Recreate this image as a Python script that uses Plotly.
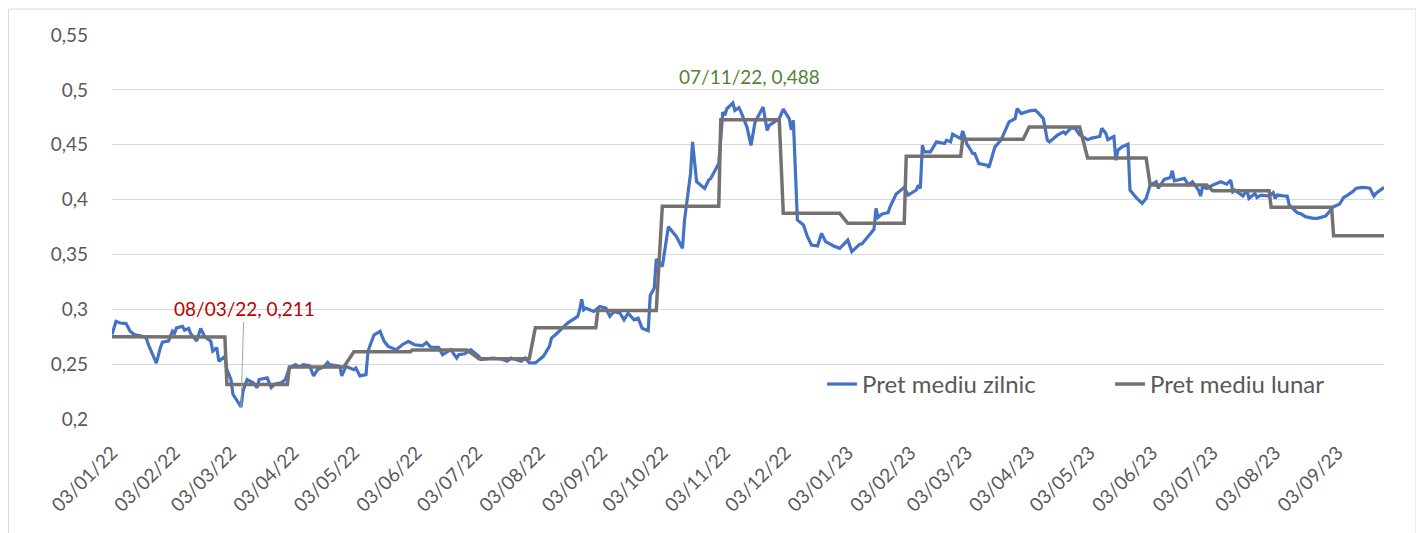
import plotly.graph_objects as go

# daily average price (Pret mediu zilnic)
zilnic_dates = [
    "2022-01-03", "2022-01-05", "2022-01-07", "2022-01-10", "2022-01-12", "2022-01-14", "2022-01-18",
    "2022-01-20", "2022-01-21", "2022-01-25", "2022-01-27", "2022-01-28", "2022-01-31", "2022-02-02",
    "2022-02-03", "2022-02-04", "2022-02-07", "2022-02-08", "2022-02-10", "2022-02-11", "2022-02-14",
    "2022-02-16", "2022-02-18", "2022-02-21", "2022-02-22", "2022-02-24", "2022-02-25", "2022-02-28",
    "2022-03-01", "2022-03-03", "2022-03-04", "2022-03-08", "2022-03-09", "2022-03-11", "2022-03-14",
    "2022-03-16", "2022-03-17", "2022-03-21", "2022-03-22", "2022-03-23", "2022-03-25", "2022-03-28",
    "2022-03-30", "2022-04-01", "2022-04-04", "2022-04-06", "2022-04-08", "2022-04-11", "2022-04-13",
    "2022-04-15", "2022-04-18", "2022-04-20", "2022-04-21", "2022-04-26", "2022-04-27", "2022-04-29",
    "2022-05-03", "2022-05-04", "2022-05-06", "2022-05-09", "2022-05-10", "2022-05-13", "2022-05-16",
    "2022-05-18", "2022-05-20", "2022-05-24", "2022-05-27", "2022-05-30", "2022-06-02", "2022-06-06",
    "2022-06-08", "2022-06-10", "2022-06-14", "2022-06-16", "2022-06-20", "2022-06-23", "2022-06-24",
    "2022-06-27", "2022-06-30", "2022-07-04", "2022-07-05", "2022-07-11", "2022-07-15", "2022-07-18",
    "2022-07-20", "2022-07-25", "2022-07-27", "2022-07-29", "2022-08-01", "2022-08-05", "2022-08-08",
    "2022-08-09", "2022-08-11", "2022-08-15", "2022-08-17", "2022-08-22", "2022-08-23", "2022-08-24",
    "2022-08-25", "2022-08-26", "2022-08-30", "2022-09-02", "2022-09-05", "2022-09-07", "2022-09-09",
    "2022-09-12", "2022-09-14", "2022-09-16", "2022-09-19", "2022-09-21", "2022-09-23", "2022-09-26",
    "2022-09-27", "2022-09-29", "2022-09-30", "2022-10-03", "2022-10-06", "2022-10-10", "2022-10-13",
    "2022-10-14", "2022-10-17", "2022-10-18", "2022-10-20", "2022-10-24", "2022-10-26", "2022-10-27",
    "2022-10-31", "2022-11-02", "2022-11-03", "2022-11-04", "2022-11-07", "2022-11-08", "2022-11-10",
    "2022-11-11", "2022-11-14", "2022-11-16", "2022-11-18", "2022-11-22", "2022-11-24", "2022-11-25",
    "2022-11-30", "2022-12-02", "2022-12-05", "2022-12-06", "2022-12-07", "2022-12-09", "2022-12-12",
    "2022-12-14", "2022-12-16", "2022-12-19", "2022-12-21", "2022-12-23", "2022-12-27", "2022-12-30",
    "2023-01-03", "2023-01-05", "2023-01-09", "2023-01-10", "2023-01-13", "2023-01-16", "2023-01-17",
    "2023-01-18", "2023-01-20", "2023-01-23", "2023-01-24", "2023-01-27", "2023-01-31", "2023-02-02",
    "2023-02-06", "2023-02-07", "2023-02-08", "2023-02-09", "2023-02-10", "2023-02-13", "2023-02-16",
    "2023-02-20", "2023-02-21", "2023-02-23", "2023-02-24", "2023-02-28", "2023-03-01", "2023-03-03",
    "2023-03-06", "2023-03-07", "2023-03-09", "2023-03-13", "2023-03-14", "2023-03-16", "2023-03-17",
    "2023-03-20", "2023-03-22", "2023-03-24", "2023-03-27", "2023-03-28", "2023-03-30", "2023-04-03",
    "2023-04-06", "2023-04-07", "2023-04-10", "2023-04-12", "2023-04-13", "2023-04-17", "2023-04-20",
    "2023-04-21", "2023-04-24", "2023-04-26", "2023-04-28", "2023-05-02", "2023-05-04", "2023-05-08",
    "2023-05-09", "2023-05-11", "2023-05-12", "2023-05-15", "2023-05-16", "2023-05-17", "2023-05-19",
    "2023-05-22", "2023-05-23", "2023-05-26", "2023-05-29", "2023-05-31", "2023-06-02", "2023-06-05",
    "2023-06-06", "2023-06-09", "2023-06-12", "2023-06-13", "2023-06-14", "2023-06-19", "2023-06-21",
    "2023-06-23", "2023-06-26", "2023-06-27", "2023-06-28", "2023-06-30", "2023-07-03", "2023-07-05",
    "2023-07-07", "2023-07-10", "2023-07-12", "2023-07-13", "2023-07-14", "2023-07-18", "2023-07-20",
    "2023-07-21", "2023-07-24", "2023-07-25", "2023-07-27", "2023-07-31", "2023-08-02", "2023-08-03",
    "2023-08-04", "2023-08-08", "2023-08-09", "2023-08-10", "2023-08-14", "2023-08-16", "2023-08-18",
    "2023-08-22", "2023-08-24", "2023-08-28", "2023-08-30", "2023-09-01", "2023-09-04", "2023-09-06",
    "2023-09-08", "2023-09-11", "2023-09-12", "2023-09-15", "2023-09-18", "2023-09-19", "2023-09-21",
    "2023-09-22", "2023-09-26",
]
zilnic_vals = [
    0.277, 0.289, 0.2875, 0.287, 0.280, 0.277, 0.2755,
    0.274, 0.268, 0.251, 0.265, 0.270, 0.271, 0.280,
    0.278, 0.283, 0.2845, 0.281, 0.2826, 0.278, 0.271,
    0.2826, 0.275, 0.271, 0.262, 0.265, 0.2526, 0.257,
    0.245, 0.236, 0.2225, 0.211, 0.2255, 0.236, 0.233,
    0.2286, 0.236, 0.2375, 0.233, 0.2286, 0.232, 0.233,
    0.236, 0.2465, 0.2495, 0.2474, 0.2495, 0.2486, 0.2393,
    0.245, 0.2474, 0.2516, 0.2495, 0.248, 0.2393, 0.248,
    0.245, 0.2465, 0.2393, 0.2405, 0.262, 0.2768, 0.2799,
    0.2708, 0.2662, 0.2632, 0.2677, 0.2708, 0.2677, 0.2668,
    0.2698, 0.2656, 0.2653, 0.2586, 0.2632, 0.2556, 0.2586,
    0.2595, 0.2632, 0.2571, 0.2541, 0.2556, 0.2547, 0.2526,
    0.2556, 0.2526, 0.2556, 0.2511, 0.2511, 0.2571, 0.2662,
    0.2738, 0.2768, 0.2844, 0.2874, 0.2935, 0.2995, 0.3092,
    0.2995, 0.301, 0.298, 0.3026, 0.301, 0.2935, 0.298,
    0.2965, 0.2904, 0.2965, 0.2904, 0.2919, 0.2828, 0.2805,
    0.3125, 0.3192, 0.3458, 0.339, 0.3753, 0.3662, 0.3556,
    0.381, 0.4238, 0.4526, 0.4163, 0.4102, 0.4178, 0.4193,
    0.4329, 0.4798, 0.4768, 0.4828, 0.488, 0.4813, 0.4838,
    0.480, 0.4661, 0.4494, 0.4707, 0.4843, 0.463, 0.4676,
    0.4737, 0.4825, 0.4735, 0.4635, 0.4722, 0.3814, 0.3768,
    0.3662, 0.3586, 0.3577, 0.3692, 0.3617, 0.3577, 0.3556,
    0.3631, 0.3526, 0.3595, 0.3595, 0.3662, 0.3729, 0.392,
    0.3838, 0.3868, 0.388, 0.3935, 0.405, 0.4111, 0.4041,
    0.4087, 0.4132, 0.4102, 0.4495, 0.4435, 0.4435, 0.4526,
    0.4511, 0.4541, 0.4526, 0.4596, 0.4556, 0.4626, 0.4511,
    0.442, 0.442, 0.4329, 0.4314, 0.4293, 0.442, 0.4481,
    0.4541, 0.4632, 0.4708, 0.4738, 0.4829, 0.4784, 0.4808,
    0.4814, 0.4799, 0.4738, 0.4541, 0.4526, 0.4587, 0.4617,
    0.460, 0.4657, 0.4645, 0.459, 0.4545, 0.456, 0.4575,
    0.465, 0.4605, 0.4545, 0.4575, 0.4358, 0.445, 0.448,
    0.4505, 0.4086, 0.4019, 0.3965, 0.401, 0.4132, 0.4162,
    0.4102, 0.4184, 0.4202, 0.4263, 0.4171, 0.4193, 0.4132,
    0.4162, 0.4086, 0.4032, 0.4117, 0.4102, 0.4132, 0.4147,
    0.4162, 0.414, 0.4177, 0.4071, 0.4086, 0.4032, 0.4086,
    0.401, 0.4056, 0.4019, 0.4041, 0.4032, 0.4062, 0.401,
    0.4041, 0.4032, 0.4032, 0.395, 0.388, 0.3868, 0.3844,
    0.3829, 0.3829, 0.385, 0.389, 0.3935, 0.3959, 0.4019,
    0.4041, 0.408, 0.4102, 0.4111, 0.4108, 0.4102, 0.4032,
    0.4056, 0.4111,
]

# monthly average price (Pret mediu lunar): first and last trading day of each month
luna_start = [
    "2022-01-03", "2022-02-01", "2022-03-01", "2022-04-01", "2022-05-03", "2022-06-01", "2022-07-04",
    "2022-08-01", "2022-09-01", "2022-10-03", "2022-11-01", "2022-12-02", "2023-01-03", "2023-02-01",
    "2023-03-01", "2023-04-03", "2023-05-02", "2023-06-02", "2023-07-03", "2023-08-01", "2023-09-01",
]
luna_end = [
    "2022-01-31", "2022-02-28", "2022-03-31", "2022-04-28", "2022-05-31", "2022-06-28", "2022-07-29",
    "2022-08-31", "2022-09-30", "2022-10-31", "2022-11-30", "2022-12-30", "2023-01-31", "2023-02-28",
    "2023-03-31", "2023-04-28", "2023-05-31", "2023-06-30", "2023-07-31", "2023-08-31", "2023-09-26",
]
luna_vals = [
    0.2750, 0.2747, 0.2314, 0.2475, 0.2612, 0.2630, 0.2550,
    0.2832, 0.2988, 0.3940, 0.4727, 0.3875, 0.3784, 0.4395,
    0.4550, 0.4662, 0.4380, 0.4132, 0.4080, 0.3930, 0.3671,
]

tick_dates = [
    "2022-01-03", "2022-02-03", "2022-03-03", "2022-04-03", "2022-05-03", "2022-06-03", "2022-07-03",
    "2022-08-03", "2022-09-03", "2022-10-03", "2022-11-03", "2022-12-03", "2023-01-03", "2023-02-03",
    "2023-03-03", "2023-04-03", "2023-05-03", "2023-06-03", "2023-07-03", "2023-08-03", "2023-09-03",
]

luna_x, luna_y = [], []
for s, e, v in zip(luna_start, luna_end, luna_vals):
    luna_x += [s, e]
    luna_y += [v, v]

FONT = "Lato"
TXT = "#595959"

fig = go.Figure()
fig.add_trace(go.Scatter(x=zilnic_dates, y=zilnic_vals, mode="lines", name="Pret mediu zilnic",
                         line=dict(color="#4472C4", width=3.2)))
fig.add_trace(go.Scatter(x=luna_x, y=luna_y, mode="lines", name="Pret mediu lunar",
                         line=dict(color="#767171", width=3.5)))

# labelled extremes
fig.add_annotation(x="2022-03-08", y=0.211, text="08/03/22, 0,211", showarrow=True,
                   arrowhead=0, arrowwidth=1, arrowcolor="#A6A6A6", ax=3, ay=-98,
                   font=dict(family=FONT, size=19, color="#C00000"))
fig.add_annotation(x="2022-11-07", y=0.488, text="07/11/22, 0,488", showarrow=False,
                   xshift=17, yshift=27, font=dict(family=FONT, size=19, color="#548235"))

# chart area border
fig.add_shape(type="rect", xref="paper", yref="paper", x0=-0.0814, x1=1.0252, y0=-0.4, y1=1.0675,
              line=dict(color="#D9D9D9", width=1), fillcolor="rgba(0,0,0,0)", layer="below")

fig.update_layout(
    width=1424, height=533,
    margin=dict(l=104, r=48, t=26.5, b=121.5),
    paper_bgcolor="white", plot_bgcolor="white",
    separators=", ",
    font=dict(family=FONT, size=19, color=TXT),
    showlegend=True,
    legend=dict(orientation="h", x=0.5582, xanchor="left", y=0.09, yanchor="middle",
                entrywidth=243, entrywidthmode="pixels", font=dict(size=24, color=TXT),
                bgcolor="rgba(0,0,0,0)"),
)
fig.update_xaxes(range=["2022-01-03", "2023-09-26"], tickvals=tick_dates, tickformat="%d/%m/%y",
                 tickangle=-45, showgrid=False, showline=False, zeroline=False,
                 ticklabelstandoff=18, tickfont=dict(size=19, color=TXT))
fig.update_yaxes(range=[0.2, 0.55], dtick=0.05, tick0=0.2, showgrid=True, gridcolor="#D9D9D9",
                 gridwidth=1, zeroline=False, showline=False, ticklabelstandoff=23,
                 tickfont=dict(size=19, color=TXT))

fig.write_html("out.html")
